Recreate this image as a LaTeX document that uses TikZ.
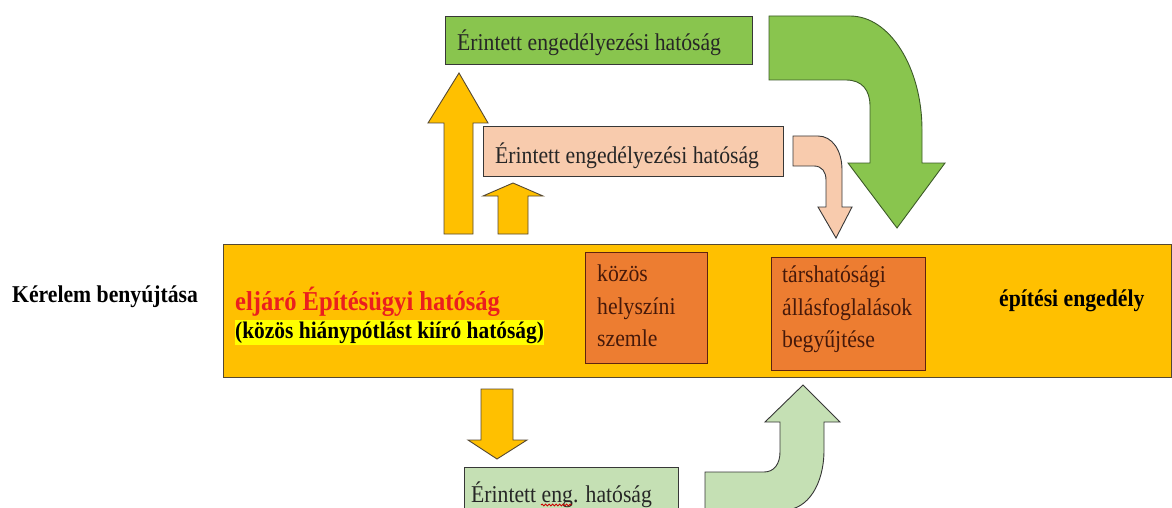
\documentclass[tikz,border=0pt]{standalone}
\usepackage{fontspec}
\setmainfont{Liberation Serif}[FakeStretch=0.9]
\usetikzlibrary{decorations.pathmorphing}
\definecolor{barc}{RGB}{255,192,0}
\definecolor{barline}{RGB}{85,72,50}
\definecolor{orbox}{RGB}{237,125,49}
\definecolor{orline}{RGB}{95,35,15}
\definecolor{ortext}{RGB}{70,25,10}
\definecolor{grn}{RGB}{137,197,78}
\definecolor{grnline}{RGB}{60,90,40}
\definecolor{peach}{RGB}{248,203,173}
\definecolor{ltgrn}{RGB}{197,224,180}
\definecolor{dkline}{RGB}{55,55,55}
\definecolor{redtxt}{RGB}{235,30,30}
\definecolor{hl}{RGB}{255,255,0}
\newcommand\fsn{\fontsize{24.1}{32.5}\selectfont}
\begin{document}
\begin{tikzpicture}[x=1pt,y=-1pt,
  txt/.style={inner sep=0pt,anchor=base west,font=\fsn},
  boxed/.style={draw=#1,line width=1pt,anchor=north west,inner sep=0pt},
  blockarrow/.style={line width=0.9pt,line join=miter}]
\useasboundingbox (0,0) rectangle (1172,508);

% main bar
\node[boxed=barline,fill=barc,minimum width=948pt,minimum height=133pt] (bar) at (223,244) {};

% top green box
\node[boxed=dkline,fill=grn,minimum width=307pt,minimum height=48pt] (gbox) at (445,16) {};
\node[txt,text=black!85] (gtxt) at (457,51) {Érintett engedélyezési hatóság};

% peach box
\node[boxed=dkline,fill=peach,minimum width=300pt,minimum height=50pt] (pbox) at (483,126) {};
\node[txt,text=black!85] (ptxt) at (495,163) {Érintett engedélyezési hatóság};

% bottom green box
\node[boxed=dkline,fill=ltgrn,minimum width=214pt,minimum height=50pt] (bbox) at (464,467) {};
\node[txt,text=black!85] (btxt) at (471,502) {Érintett eng. hatóság};
\coordinate (sq1) at (541,505);
\coordinate (sq2) at (572,505);
\draw[red!80!black,line width=0.8pt,decorate,decoration={snake,amplitude=1pt,segment length=3.5pt}] (sq1) -- (sq2);

% inner orange boxes
\node[boxed=orline,fill=orbox,minimum width=122pt,minimum height=111pt] (box1) at (585,252) {};
\node[inner sep=0pt,anchor=north west,align=left,font=\fsn,text=ortext] (box1t) at (597,265) {közös\\helyszíni\\szemle};
\node[boxed=orline,fill=orbox,minimum width=154pt,minimum height=113pt] (box2) at (771,257) {};
\node[inner sep=0pt,anchor=north west,align=left,font=\fsn,text=ortext] (box2t) at (782,266) {társhatósági\\állásfoglalások\\begyűjtése};

% texts
\node[txt,font=\fontsize{24.1}{28}\selectfont\bfseries] (kerelem) at (12,302) {Kérelem benyújtása};
\node[txt,font=\fontsize{27.3}{30}\selectfont\bfseries,text=redtxt] (eljaro) at (235,310) {eljáró Építésügyi hatóság};
\node[txt,font=\fontsize{23.8}{28}\selectfont\bfseries,fill=hl,inner ysep=1.5pt] (kozos) at (235,338) {(közös hiánypótlást kiíró hatóság)};
\node[txt,font=\fontsize{24.1}{28}\selectfont\bfseries] (epitesi) at (999,306) {építési engedély};

% yellow straight arrows
\draw[blockarrow,draw=barline,fill=barc] (444,234) -- (444,123) -- (428,123) -- (459,73) -- (488,123) -- (473,123) -- (473,234) -- cycle;
\draw[blockarrow,draw=barline,fill=barc] (498,234) -- (498,196) -- (483,196) -- (513,183) -- (543,196) -- (528,196) -- (528,234) -- cycle;
\draw[blockarrow,draw=barline,fill=barc] (481,389) -- (481,440) -- (468,440) -- (497,459) -- (527,440) -- (513,440) -- (513,389) -- cycle;

% green curved arrow
\draw[blockarrow,draw=grnline,fill=grn] (769,16) -- (850,16)
  .. controls (890,16) and (922,68) .. (922,130) -- (922,163) -- (945,163) -- (897,228)
  -- (848,163) -- (870,163) -- (870,106)
  .. controls (870,90) and (862,80) .. (846,80) -- (769,80) -- cycle;

% peach curved arrow
\draw[blockarrow,draw=dkline,fill=peach] (793,136) -- (818,136)
  .. controls (832,136) and (842,150) .. (842,170) -- (842,207) -- (852,207) -- (836,238)
  -- (818,207) -- (826,207) -- (826,180)
  .. controls (826,172) and (822,166) .. (814,166) -- (793,166) -- cycle;

% light green curved arrow
\draw[blockarrow,draw=dkline,fill=ltgrn] (705,510) -- (705,472) -- (764,472)
  .. controls (774,472) and (780,464) .. (780,452) -- (780,422) -- (765,422) -- (803,385)
  -- (840,422) -- (824,422) -- (824,450)
  .. controls (824,484) and (808,510) .. (784,510) -- cycle;
\end{tikzpicture}
\end{document}
